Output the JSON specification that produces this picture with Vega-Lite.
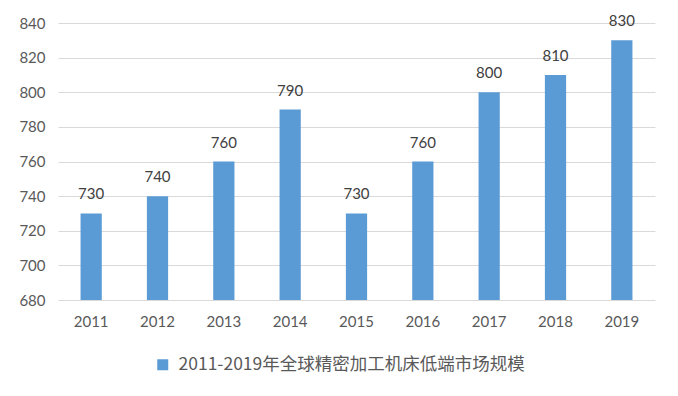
{
  "$schema": "https://vega.github.io/schema/vega-lite/v6.json",
  "autosize": {"type": "none"},
  "width": 597,
  "height": 277,
  "padding": {"left": 58, "top": 23, "right": 23, "bottom": 96},
  "background": "white",
  "data": {
    "values": [
      {"year": "2011", "value": 730, "series": "2011-2019年全球精密加工机床低端市场规模"},
      {"year": "2012", "value": 740, "series": "2011-2019年全球精密加工机床低端市场规模"},
      {"year": "2013", "value": 760, "series": "2011-2019年全球精密加工机床低端市场规模"},
      {"year": "2014", "value": 790, "series": "2011-2019年全球精密加工机床低端市场规模"},
      {"year": "2015", "value": 730, "series": "2011-2019年全球精密加工机床低端市场规模"},
      {"year": "2016", "value": 760, "series": "2011-2019年全球精密加工机床低端市场规模"},
      {"year": "2017", "value": 800, "series": "2011-2019年全球精密加工机床低端市场规模"},
      {"year": "2018", "value": 810, "series": "2011-2019年全球精密加工机床低端市场规模"},
      {"year": "2019", "value": 830, "series": "2011-2019年全球精密加工机床低端市场规模"}
    ]
  },
  "encoding": {
    "x": {
      "field": "year", "type": "ordinal",
      "scale": {"paddingInner": 0.68, "paddingOuter": 0.34},
      "axis": {"title": null, "labelAngle": 0, "ticks": false, "domain": false, "grid": false,
               "labelFont": "Lato", "labelFontSize": 15, "labelColor": "#595959", "labelPadding": 14}
    },
    "y": {
      "field": "value", "type": "quantitative",
      "scale": {"domain": [680, 840], "zero": false, "nice": false},
      "axis": {"title": null, "values": [680, 700, 720, 740, 760, 780, 800, 820, 840],
               "ticks": false, "domain": false, "grid": true, "gridColor": "#d9d9d9", "gridWidth": 1,
               "labelFont": "Lato", "labelFontSize": 15, "labelColor": "#595959", "labelPadding": 13}
    }
  },
  "layer": [
    {
      "mark": {"type": "bar", "clip": true},
      "encoding": {
        "color": {
          "field": "series", "type": "nominal",
          "scale": {"range": ["#5B9BD5"]},
          "legend": {
            "title": null, "orient": "none", "legendX": 96, "legendY": 333,
            "symbolType": "square", "symbolSize": 121, "symbolStrokeWidth": 0,
            "labelFont": "Noto Sans CJK SC", "labelFontSize": 17.5, "labelColor": "#595959",
            "labelOffset": 7, "labelLimit": 600
          }
        }
      }
    },
    {
      "mark": {"type": "text", "baseline": "bottom", "dy": -11, "font": "Lato", "fontSize": 15, "color": "#404040"},
      "encoding": {"text": {"field": "value", "type": "quantitative"}}
    }
  ],
  "config": {"view": {"stroke": null}}
}
